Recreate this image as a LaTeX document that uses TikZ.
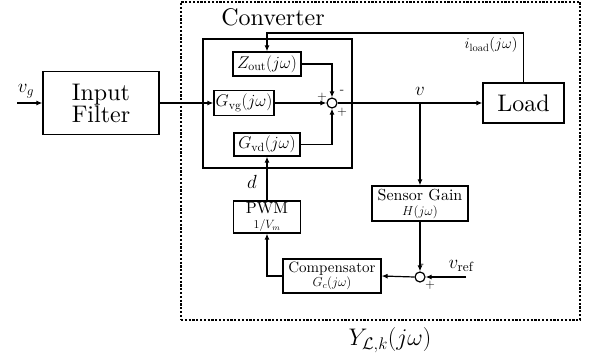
\RequirePackage{fix-cm}
\documentclass[tikz,border=0pt]{standalone}
\usepackage{fontspec}
\setmainfont{lmroman10-regular.otf}
\usetikzlibrary{arrows.meta}
\newcommand{\fs}[1]{\fontsize{#1}{#1}\selectfont}
\begin{document}
\begin{tikzpicture}[x=1pt,y=-1pt,
  blk/.style={draw, line width=1.2pt, inner sep=0pt, align=center},
  arr/.style={line width=1.2pt, -{Latex[length=6pt,width=5pt]}},
  sumc/.style={draw, circle, line width=1.2pt, minimum size=10pt, inner sep=0pt},
  big/.style={font=\fs{24}},
  mid/.style={font=\fs{16}},
  lab/.style={font=\fs{19}},
  sgn/.style={font=\fs{13}, inner sep=0pt}]
\useasboundingbox (0,0) rectangle (589,361);
% outer dotted box
\node[draw, line width=1.2pt, dash pattern=on 2.2pt off 1.6pt, minimum width=399pt, minimum height=318pt, inner sep=0pt] (outer) at (380.5,161) {};
\node[big] (convlab) at (273,17) {Converter};
\node[font=\fs{24}] (ylab) at (390,340) {$Y_{\mathcal{L},k}(j\omega)$};
% converter box
\node[blk, minimum width=149pt, minimum height=129pt] (conv) at (277.5,103.5) {};
% blocks
\node[blk, big, minimum width=116pt, minimum height=63pt] (infilt) at (101,103) {Input\\[-2pt]Filter};
\node[blk, font=\fs{17}, minimum width=68pt, minimum height=24pt] (zout) at (267,64) {$Z_{\mathrm{out}}(j\omega)$};
\node[blk, font=\fs{17}, minimum width=60pt, minimum height=25pt] (gvg) at (244,103) {$G_{\mathrm{vg}}(j\omega)$};
\node[blk, font=\fs{17}, minimum width=66pt, minimum height=23pt] (gvd) at (267,144.5) {$G_{\mathrm{vd}}(j\omega)$};
\node[sumc] (sum1) at (332,103) {};
\node[blk, big, minimum width=81pt, minimum height=40pt] (load) at (523.5,103) {Load};
\node[blk, mid, minimum width=96pt, minimum height=35pt] (sensor) at (420,203.5) {Sensor Gain\\[-1pt]{\fs{13}$H(j\omega)$}};
\node[blk, mid, minimum width=67pt, minimum height=32pt] (pwm) at (267,217) {PWM\\[-1pt]{\fs{12}$1/V_m$}};
\node[blk, font=\fs{15}, minimum width=98pt, minimum height=34pt] (comp) at (332,276) {Compensator\\[-1pt]{\fs{13}$G_c(j\omega)$}};
\node[sumc] (sum2) at (420,277) {};
% coordinates
\coordinate (vgin) at (17,103);
\coordinate (vref) at (466,277);
\coordinate (vb) at (420,103);
\coordinate (topc) at (267,33);
% labels
\node[lab] (vglab) at (26,91) {$v_g$};
\node[lab] (vlab) at (420,91) {$v$};
\node[lab] (dlab) at (252,182) {$d$};
\node[lab] (vreflab) at (461,266) {$v_{\mathrm{ref}}$};
\node[font=\fs{15}, anchor=east] (iload) at (521,45) {$i_{\mathrm{load}}(j\omega)$};
\node[sgn] (p1) at (322,97) {$+$};
\node[sgn] (m1) at (342,92) {-};
\node[sgn] (p2) at (342,112) {$+$};
\node[sgn] (m2) at (422,266) {-};
\node[sgn] (p3) at (430,285) {$+$};
% connectors
\draw[arr] (vgin) -- (infilt.west);
\draw[arr] (infilt.east) -- (gvg.west);
\draw[arr] (gvg.east) -- (sum1.west);
\draw[arr] (zout.east) -| (sum1.north);
\draw[arr] (gvd.east) -| (sum1.south);
\draw[arr] (sum1.east) -- (load.west);
\draw[arr] (vb) -- (sensor.north);
\draw[arr] (sensor.south) -- (sum2.north);
\draw[arr] (vref) -- (sum2.east);
\draw[arr] (sum2.west) -- (comp.east);
\draw[arr] (comp.west) -| (pwm.south);
\draw[arr] (pwm.north) -- (gvd.south);
\draw[arr] (load.north) |- (topc) -- (zout.north);
\end{tikzpicture}
\end{document}
